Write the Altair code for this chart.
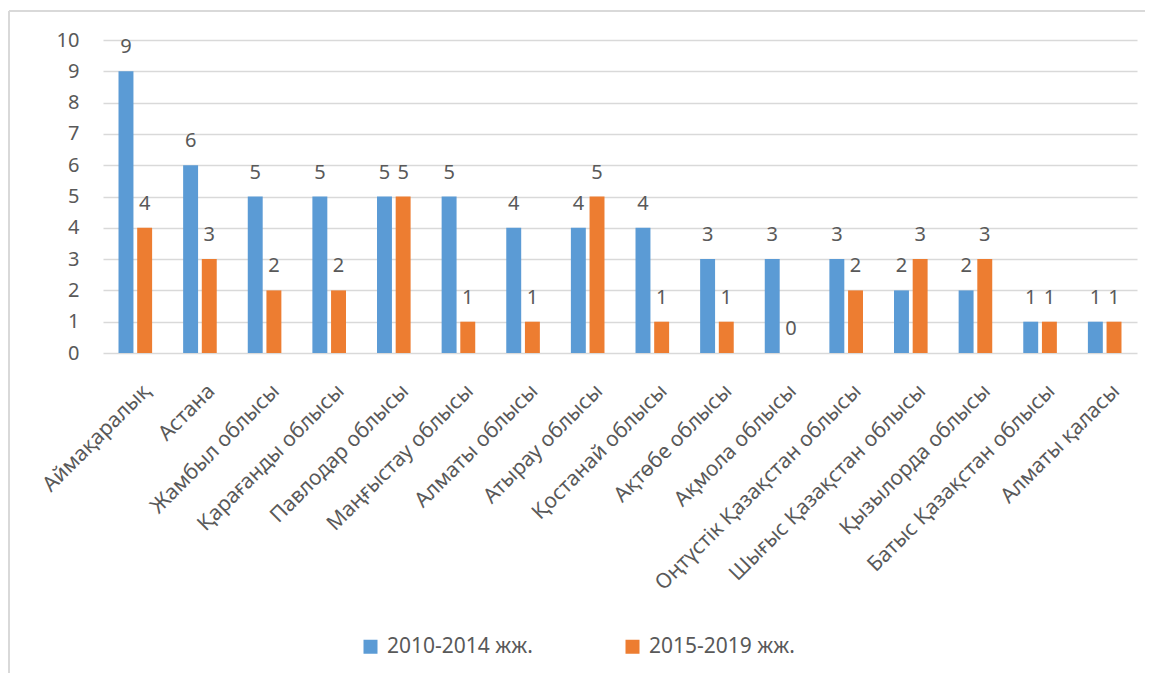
import altair as alt
import pandas as pd

categories = [
    "Аймақаралық", "Астана", "Жамбыл облысы", "Қарағанды облысы",
    "Павлодар облысы", "Маңғыстау облысы", "Алматы облысы", "Атырау облысы",
    "Қостанай облысы", "Ақтөбе облысы", "Ақмола облысы",
    "Оңтүстік Қазақстан облысы", "Шығыс Қазақстан облысы", "Қызылорда облысы",
    "Батыс Қазақстан облысы", "Алматы қаласы",
]
values_2010_2014 = [9, 6, 5, 5, 5, 5, 4, 4, 4, 3, 3, 3, 2, 2, 1, 1]
values_2015_2019 = [4, 3, 2, 2, 5, 1, 1, 5, 1, 1, 0, 2, 3, 3, 1, 1]
series_names = ["2010-2014 жж.", "2015-2019 жж."]
series_colors = ["#5B9BD5", "#ED7D31"]
y_ticks = list(range(0, 11))

rows = []
for c, a, b in zip(categories, values_2010_2014, values_2015_2019):
    rows.append({"region": c, "series": series_names[0], "value": a})
    rows.append({"region": c, "series": series_names[1], "value": b})
df = pd.DataFrame(rows)

FONT = "Noto Sans"
TXT = "#595959"

x = alt.X(
    "region:N", sort=categories,
    scale=alt.Scale(paddingInner=0.48, paddingOuter=0.24),
    axis=alt.Axis(title=None, labelAngle=-45, labelFontSize=21, labelColor=TXT,
                  domain=False, ticks=False, labelPadding=27, labelOffset=4,
                  labelLimit=500),
)
xo = alt.XOffset("series:N", sort=series_names, scale=alt.Scale(paddingInner=0.2))
y = alt.Y(
    "value:Q",
    scale=alt.Scale(domain=[0, 10], nice=False),
    axis=alt.Axis(values=y_ticks, title=None, labelFontSize=20, labelColor=TXT,
                  domain=False, ticks=False, labelPadding=24,
                  gridColor="#D9D9D9", gridWidth=1.3),
)
color = alt.Color(
    "series:N", sort=series_names,
    scale=alt.Scale(domain=series_names, range=series_colors),
    legend=alt.Legend(title=None, orient="none", legendX=257, legendY=596,
                      direction="horizontal", symbolType="square", symbolSize=196,
                      symbolStrokeWidth=0, labelFontSize=21, labelColor=TXT,
                      columnPadding=89, labelOffset=6, labelLimit=400),
)

base = alt.Chart(df)
bars = base.mark_bar().encode(x=x, xOffset=xo, y=y, color=color)
labels = base.mark_text(baseline="alphabetic", dy=-18, fontSize=20, color=TXT).encode(
    x=x, xOffset=xo, y=y, text=alt.Text("value:Q")
)
one = pd.DataFrame({"f": [0]})
frame_left = alt.Chart(one).mark_rule(stroke="#D9D9D9", strokeWidth=2).encode(
    x=alt.value(-94), y=alt.value(-29), y2=alt.value(640)
)
frame_top = alt.Chart(one).mark_rule(stroke="#D9D9D9", strokeWidth=2).encode(
    x=alt.value(-94), x2=alt.value(1042), y=alt.value(-29)
)

chart = (
    alt.layer(frame_left, frame_top, bars, labels)
    .properties(width=1034, height=313, autosize="none",
                padding={"left": 95, "top": 32, "right": 8, "bottom": 320})
    .configure(font=FONT)
    .configure_view(stroke=None)
)
chart.save("out.html", embed_options={"renderer": "svg", "actions": False})
